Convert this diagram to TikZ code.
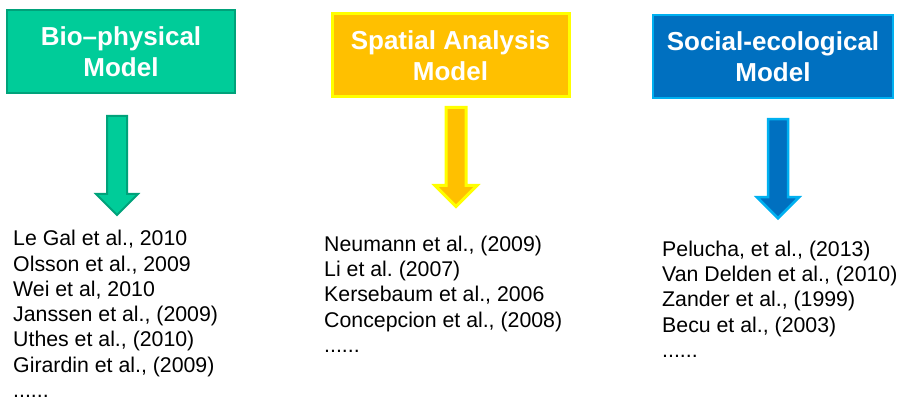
\documentclass[tikz,border=0pt]{standalone}
\usepackage{fontspec}
\setmainfont{Liberation Sans}
\usetikzlibrary{positioning}
\frenchspacing

\definecolor{bioFill}{HTML}{00CC99}
\definecolor{bioLine}{HTML}{00A27A}
\definecolor{spaFill}{HTML}{FFC000}
\definecolor{spaLine}{HTML}{FFFF00}
\definecolor{socFill}{HTML}{0070C0}
\definecolor{socLine}{HTML}{00B0F0}

\begin{document}
\begin{tikzpicture}[x=1pt,y=-1pt]
  \newcommand{\Xbio}[0]{ 121 }
  \newcommand{\Xspa}[0]{ 450.5 }
  \newcommand{\Xsoc}[0]{ 773 }

  \newcommand{\shaftwidth}[0]{ 20pt }
  \newcommand{\shaftlength}[0]{ 78pt }
  \newcommand{\headwidth}[0]{ 42pt }
  \newcommand{\headlength}[0]{ 21pt }

  \useasboundingbox (0,0) rectangle (900,398);

  \tikzstyle{model}=[
    rectangle,
    anchor=center,
    align=center,
    minimum height=83pt,
    text=white,
    font=\fontsize{26}{31.5}\selectfont\bfseries,
  ]
  \tikzstyle{refs}=[
    anchor=base west,
    align=left,
    inner sep=0pt,
    font=\fontsize{21.3}{25.3}\selectfont,
  ]

  % #1: prefix
  % #2: top position
  % #3: fill colour
  % #4: line colour
  % #5: line width
  \newcommand{\buildDownArrow}[5]{
    \coordinate (#1 top) at (#2);
    \draw[
      fill=#3,
      draw=#4,
      line width=#5,
      line join=miter,
    ]  ([xshift=-\shaftwidth/2]#1 top)
    -- ([xshift= \shaftwidth/2]#1 top)
    -- ([xshift= \shaftwidth/2,yshift=-\shaftlength]#1 top)
    -- ([xshift= \headwidth/2,yshift=-\shaftlength]#1 top)
    -- ([yshift=-\shaftlength-\headlength]#1 top)
    -- ([xshift=-\headwidth/2,yshift=-\shaftlength]#1 top)
    -- ([xshift=-\shaftwidth/2,yshift=-\shaftlength]#1 top)
    -- cycle;
    \coordinate (#1 tip) at ([yshift=-\shaftlength-\headlength]#1 top);
  }

  % bio-physical model
  \node[model, fill=bioFill, draw=bioLine, line width=2pt, minimum width=228pt]
    (bio) at (\Xbio, 51.5) {Bio–physical\\Model};

  % spatial analysis model
  \node[model, fill=spaFill, draw=spaLine, line width=3pt, minimum width=237pt]
    (spa) at (\Xspa, 55.5) {Spatial Analysis\\Model};

  % social-ecological model
  \node[model, fill=socFill, draw=socLine, line width=2.5pt, minimum width=240pt]
    (soc) at (\Xsoc, 56.5) {Social-ecological\\Model};

  % arrows
  \buildDownArrow{bio arrow}{[xshift=-4pt,yshift=-22pt]bio.south}{bioFill}{bioLine}{2pt}
  \buildDownArrow{spa arrow}{[xshift=5.5pt,yshift=-9pt]spa.south}{spaFill}{spaLine}{3pt}
  \buildDownArrow{soc arrow}{[xshift=5pt,yshift=-20pt]soc.south}{socFill}{socLine}{2.5pt}

  % references (base = last line)
  \node[refs] (bio refs) at (13, 397.5) {Le Gal et al., 2010\\Olsson et al., 2009\\Wei et al, 2010\\Janssen et al., (2009)\\Uthes et al., (2010)\\Girardin et al., (2009)\\......};
  \node[refs] (spa refs) at (324, 352.5) {Neumann et al., (2009)\\Li et al. (2007)\\Kersebaum et al., 2006\\Concepcion et al., (2008)\\......};
  \node[refs] (soc refs) at (662, 357.5) {Pelucha, et al., (2013)\\Van Delden et al., (2010)\\Zander et al., (1999)\\Becu et al., (2003)\\......};
\end{tikzpicture}
\end{document}
